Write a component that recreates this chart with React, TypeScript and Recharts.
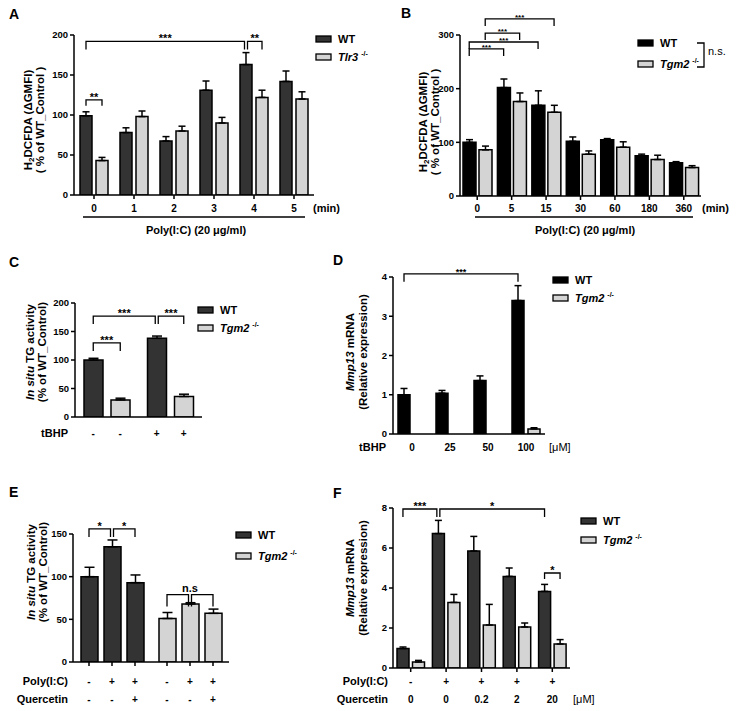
import React from 'react';
import { BarChart, Bar, XAxis, YAxis, ErrorBar, ReferenceLine, Cell } from 'recharts';

// ---- panel A: H2DCFDA, WT vs Tlr3-/- ----
const A_TIMES = ['0', '1', '2', '3', '4', '5'];
const A_WT = [99, 78, 67.5, 131, 163, 142];
const A_WT_SEM = [5, 6, 5.5, 11.5, 15, 13];
const A_TLR3 = [43, 98, 80, 90, 122, 120];
const A_TLR3_SEM = [4, 7, 6, 7, 9, 9];

// ---- panel B: H2DCFDA, WT vs Tgm2-/- ----
const B_TIMES = ['0', '5', '15', '30', '60', '180', '360'];
const B_WT = [100, 202, 169, 102, 105, 75, 62];
const B_WT_SEM = [5, 16, 27, 8, 2, 3, 2];
const B_TGM2 = [86, 176, 156, 78, 91, 68, 53];
const B_TGM2_SEM = [7, 16, 13, 6, 10, 8, 3.5];

// ---- panel C: in situ TG activity ----
const C_TBHP = ['-', '+'];
const C_WT = [100, 138];
const C_WT_SEM = [3, 4];
const C_TGM2 = [30, 36];
const C_TGM2_SEM = [3, 4];

// ---- panel D: Mmp13 mRNA, tBHP ----
const D_TBHP = ['0', '25', '50', '100'];
const D_WT = [1.0, 1.04, 1.36, 3.4];
const D_WT_SEM = [0.16, 0.07, 0.12, 0.38];
const D_TGM2 = [0, 0, 0, 0.13];
const D_TGM2_SEM = [0, 0, 0, 0.03];

// ---- panel E: in situ TG activity, quercetin ----
const E_GENOTYPES = ['WT', 'Tgm2'];
const E_POLY = ['-', '+', '+'];
const E_QUER = ['-', '-', '+'];
const E_WT = [100, 135, 93];
const E_WT_SEM = [11, 8, 9];
const E_TGM2 = [51, 68, 57];
const E_TGM2_SEM = [7, 1.5, 5];

// ---- panel F: Mmp13 mRNA, quercetin ----
const F_POLY = ['-', '+', '+', '+', '+'];
const F_QUER = ['0', '0', '0.2', '2', '20'];
const F_WT = [0.97, 6.72, 5.85, 4.58, 3.83];
const F_WT_SEM = [0.08, 0.66, 0.73, 0.42, 0.35];
const F_TGM2 = [0.3, 3.28, 2.15, 2.05, 1.2];
const F_TGM2_SEM = [0.08, 0.4, 1.03, 0.2, 0.22];

const FONT = '"Liberation Sans", Arial, sans-serif';
const DARK = '#333333';
const BLACK = '#000000';
const LIGHT = '#d4d4d4';
const YW = 34;
const MT = 30;
const MR = 4;
const XH = 45;

const TXT = { fontFamily: FONT, fontWeight: 700, fontSize: 10, fill: '#000' } as const;
const YTXT = { ...TXT, fontSize: 9.5 };

const err = (s: number) => (s > 0 ? [0, s] : null);

const aRows = A_TIMES.map((t, i) => ({ t, wt: A_WT[i], wtE: err(A_WT_SEM[i]), ko: A_TLR3[i], koE: err(A_TLR3_SEM[i]) }));
const bRows = B_TIMES.map((t, i) => ({ t, wt: B_WT[i], wtE: err(B_WT_SEM[i]), ko: B_TGM2[i], koE: err(B_TGM2_SEM[i]) }));
const cRows = C_TBHP.map((t, i) => ({ t, wt: C_WT[i], wtE: err(C_WT_SEM[i]), ko: C_TGM2[i], koE: err(C_TGM2_SEM[i]) }));
const dRows = D_TBHP.map((t, i) => ({ t, wt: D_WT[i], wtE: err(D_WT_SEM[i]), ko: D_TGM2[i], koE: err(D_TGM2_SEM[i]) }));
const eRows = E_GENOTYPES.map((g, gi) => {
  const v = gi === 0 ? E_WT : E_TGM2;
  const s = gi === 0 ? E_WT_SEM : E_TGM2_SEM;
  return { t: g, c0: v[0], c0E: err(s[0]), c1: v[1], c1E: err(s[1]), c2: v[2], c2E: err(s[2]) };
});
const fRows = F_QUER.map((_, i) => ({ t: String(i), wt: F_WT[i], wtE: err(F_WT_SEM[i]), ko: F_TGM2[i], koE: err(F_TGM2_SEM[i]) }));

type Brk = { a: string; b: string; y: number; da: number; db: number; text?: string; drop?: number; fs?: number; tx?: number };
type Ser = { key: string; fill: string; cells?: string[]; cap: number };

function bracketShape(b: Brk) {
  return (p: any) => {
    const xa = p.x1 + b.da;
    const xb = p.x2 + b.db;
    const y = p.y1;
    const drop = b.drop ?? 7;
    const tx = b.tx !== undefined ? p.x1 + b.tx : (xa + xb) / 2;
    const isStar = b.text && b.text.startsWith('*');
    return (
      <g>
        <path d={`M${xa},${y + drop}V${y}H${xb}V${y + drop}`} fill="none" stroke="#000" strokeWidth={1.3} />
        {b.text ? (
          <text x={tx} y={isStar ? y + 1 : y - 3} textAnchor="middle" fontFamily={FONT} fontWeight={700} fontSize={b.fs ?? 11}>
            {b.text}
          </text>
        ) : null}
      </g>
    );
  };
}

function Panel(props: {
  box: [number, number, number, number];
  rows: any[];
  domain: [number, number];
  ticks: number[];
  series: Ser[];
  barSize: number;
  barGap: number;
  brackets: Brk[];
  tick: (p: any) => React.ReactElement;
  xTickLine?: boolean;
}) {
  const [x0, y0, x1, y1] = props.box;
  const w = x1 - x0 + YW + MR;
  const h = y1 - y0 + MT + XH;
  const axis = { stroke: '#000', strokeWidth: 1.5 };
  return (
    <div style={{ position: 'absolute', left: x0 - YW, top: y0 - MT }}>
      <BarChart width={w} height={h} data={props.rows} margin={{ top: MT, right: MR, bottom: 0, left: 0 }} barSize={props.barSize} barGap={props.barGap}>
        <XAxis
          dataKey="t"
          type="category"
          height={XH}
          interval={0}
          axisLine={axis}
          tickLine={props.xTickLine ? axis : false}
          tickSize={4}
          tickMargin={2}
          tick={props.tick}
        />
        <YAxis
          width={YW}
          type="number"
          domain={props.domain}
          ticks={props.ticks}
          allowDataOverflow
          interval={0}
          axisLine={axis}
          tickLine={axis}
          tickSize={4}
          tickMargin={2}
          tick={YTXT}
        />
        {props.series.map((s) => (
          <Bar key={s.key} dataKey={s.key} fill={s.fill} stroke="#000" strokeWidth={1.5} isAnimationActive={false}>
            {s.cells ? props.rows.map((_, i) => <Cell key={i} fill={s.cells![i]} />) : null}
            <ErrorBar dataKey={`${s.key}E`} direction="y" width={s.cap} stroke="#000" strokeWidth={1.5} />
          </Bar>
        ))}
        {props.brackets.map((b, i) => (
          <ReferenceLine
            key={i}
            segment={[{ x: b.a, y: b.y }, { x: b.b, y: b.y }]}
            ifOverflow="visible"
            shape={bracketShape(b)}
          />
        ))}
      </BarChart>
    </div>
  );
}

const simpleTick = (dy: number) => (p: any) => (
  <text x={p.x} y={p.y + dy} textAnchor="middle" dominantBaseline="central" {...TXT}>
    {p.payload.value}
  </text>
);

const cTick = (p: any) => (
  <g>
    {[-13.5, 13.5].map((d) => (
      <text key={d} x={p.x + d} y={p.y + 10} textAnchor="middle" dominantBaseline="central" {...TXT}>
        {p.payload.value}
      </text>
    ))}
  </g>
);

const eTick = (p: any) => (
  <g>
    {[-23, 0, 23].map((d, i) => (
      <g key={d}>
        <line x1={p.x + d} x2={p.x + d} y1={p.y - 6} y2={p.y - 2} stroke="#000" strokeWidth={1.5} />
        <text x={p.x + d} y={p.y + 13} textAnchor="middle" dominantBaseline="central" {...TXT}>{E_POLY[i]}</text>
        <text x={p.x + d} y={p.y + 31} textAnchor="middle" dominantBaseline="central" {...TXT}>{E_QUER[i]}</text>
      </g>
    ))}
  </g>
);

const fTick = (p: any) => {
  const i = Number(p.payload.value);
  return (
    <g>
      <text x={p.x} y={p.y + 7} textAnchor="middle" dominantBaseline="central" {...TXT}>{F_POLY[i]}</text>
      <text x={p.x} y={p.y + 25} textAnchor="middle" dominantBaseline="central" {...TXT}>{F_QUER[i]}</text>
    </g>
  );
};

function Swatch({ x, y, fill }: { x: number; y: number; fill: string }) {
  return <rect x={x} y={y - 3} width={15} height={6} fill={fill} stroke="#000" strokeWidth={1.3} />;
}

function Legend({ x, y1, y2, dark, ko }: { x: number; y1: number; y2: number; dark: string; ko: string }) {
  return (
    <g fontFamily={FONT} fontWeight={700} fontSize={11}>
      <Swatch x={x} y={y1} fill={dark} />
      <Swatch x={x} y={y2} fill={LIGHT} />
      <text x={x + 22} y={y1} dominantBaseline="central">WT</text>
      <text x={x + 22} y={y2} dominantBaseline="central">
        <tspan fontStyle="italic">{ko}</tspan>
        <tspan dx={3} dy={-4} fontSize={7}>-/-</tspan>
      </text>
    </g>
  );
}

function YTitle({ x1, x2, y, l1, l2 }: { x1: number; x2: number; y: number; l1: React.ReactNode; l2: React.ReactNode }) {
  return (
    <g fontFamily={FONT} fontWeight={700} fontSize={11.5}>
      <text transform={`translate(${x1},${y}) rotate(-90)`} textAnchor="middle" dominantBaseline="central">{l1}</text>
      <text transform={`translate(${x2},${y}) rotate(-90)`} textAnchor="middle" dominantBaseline="central">{l2}</text>
    </g>
  );
}

const H2 = (
  <>
    H<tspan dy={3} fontSize={8}>2</tspan>
    <tspan dy={-3}>DCFDA (ΔGMFI)</tspan>
  </>
);

function Overlay() {
  const t = { fontFamily: FONT, fontWeight: 700, fontSize: 11, dominantBaseline: 'central' } as const;
  return (
    <svg width={743} height={711} style={{ position: 'absolute', left: 0, top: 0, pointerEvents: 'none' }}>
      {/* panel letters */}
      <g fontFamily={FONT} fontWeight={700} fontSize={14} dominantBaseline="central">
        <text x={9} y={14}>A</text>
        <text x={401} y={13}>B</text>
        <text x={9} y={262}>C</text>
        <text x={333} y={260}>D</text>
        <text x={9} y={492}>E</text>
        <text x={333} y={493}>F</text>
      </g>

      {/* A */}
      <YTitle x1={28} x2={40} y={120} l1={H2} l2="( % of WT_Control )" />
      <Legend x={316} y1={39} y2={57} dark={DARK} ko="Tlr3" />
      <text x={313} y={208} {...t}>(min)</text>
      <line x1={83} x2={305} y1={217} y2={217} stroke="#000" strokeWidth={1.5} />
      <text x={196} y={230} textAnchor="middle" {...t}>Poly(I:C) (20 μg/ml)</text>

      {/* B */}
      <YTitle x1={423} x2={435} y={122} l1={H2} l2="( % of WT_Control )" />
      <Legend x={638} y1={43} y2={64} dark={BLACK} ko="Tgm2" />
      <path d="M697,43H704V67H697" fill="none" stroke="#000" strokeWidth={1.3} />
      <text x={708} y={51} {...t} fontWeight={400}>n.s.</text>
      <text x={702} y={208} {...t}>(min)</text>
      <line x1={475} x2={693} y1={217} y2={217} stroke="#000" strokeWidth={1.5} />
      <text x={585} y={230} textAnchor="middle" {...t}>Poly(I:C) (20 μg/ml)</text>

      {/* C */}
      <YTitle
        x1={30}
        x2={42}
        y={352}
        l1={<><tspan fontStyle="italic">In situ</tspan> TG activity</>}
        l2="(% of WT_Control)"
      />
      <Legend x={198} y1={310} y2={328} dark={DARK} ko="Tgm2" />
      <text x={68} y={433} textAnchor="end" {...t}>tBHP</text>

      {/* D */}
      <YTitle
        x1={350}
        x2={363}
        y={352}
        l1={<><tspan fontStyle="italic">Mmp13</tspan> mRNA</>}
        l2="(Relative expression)"
      />
      <Legend x={553} y1={280} y2={298} dark={BLACK} ko="Tgm2" />
      <text x={386} y={447} textAnchor="end" {...t}>tBHP</text>
      <text x={549} y={447} {...t} fontWeight={400}>[μM]</text>

      {/* E */}
      <YTitle
        x1={31}
        x2={43}
        y={572}
        l1={<><tspan fontStyle="italic">In situ</tspan> TG activity</>}
        l2="(% of WT_Control)"
      />
      <Legend x={236} y1={535} y2={556} dark={DARK} ko="Tgm2" />
      <text x={68} y={681} textAnchor="end" {...t}>Poly(I:C)</text>
      <text x={68} y={699} textAnchor="end" {...t}>Quercetin</text>

      {/* F */}
      <YTitle
        x1={350}
        x2={363}
        y={578}
        l1={<><tspan fontStyle="italic">Mmp13</tspan> mRNA</>}
        l2="(Relative expression)"
      />
      <Legend x={581} y1={521} y2={540} dark={DARK} ko="Tgm2" />
      <text x={388} y={681} textAnchor="end" {...t}>Poly(I:C)</text>
      <text x={388} y={699} textAnchor="end" {...t}>Quercetin</text>
      <text x={573} y={699} {...t} fontWeight={400}>[μM]</text>
    </svg>
  );
}

export default function App() {
  return (
    <div style={{ position: 'absolute', left: 0, top: 0, width: 743, height: 711, background: '#fff', overflow: 'hidden' }}>
      <Panel
        box={[74, 35, 314, 195]}
        rows={aRows}
        domain={[0, 200]}
        ticks={[0, 50, 100, 150, 200]}
        barSize={12}
        barGap={4}
        series={[{ key: 'wt', fill: DARK, cap: 3.5 }, { key: 'ko', fill: LIGHT, cap: 3.5 }]}
        brackets={[
          { a: '0', b: '0', y: 119, da: -8, db: 8, text: '**', drop: 6 },
          { a: '0', b: '4', y: 192, da: -8, db: -9.5, text: '***', drop: 8 },
          { a: '4', b: '4', y: 192, da: -6.5, db: 8, text: '**', drop: 8 },
        ]}
        tick={simpleTick(7)}
        xTickLine
      />
      <Panel
        box={[460, 35, 701, 196]}
        rows={bRows}
        domain={[0, 300]}
        ticks={[0, 100, 200, 300]}
        barSize={13}
        barGap={3}
        series={[{ key: 'wt', fill: BLACK, cap: 3.5 }, { key: 'ko', fill: LIGHT, cap: 3.5 }]}
        brackets={[
          { a: '0', b: '5', y: 274, da: -8, db: -8, text: '***', fs: 8 },
          { a: '0', b: '15', y: 287, da: -8, db: -8, text: '***', fs: 8 },
          { a: '0', b: '5', y: 303.5, da: 8, db: 8, text: '***', fs: 8 },
          { a: '0', b: '15', y: 330, da: 8, db: 8, text: '***', fs: 8 },
        ]}
        tick={simpleTick(6)}
        xTickLine
      />
      <Panel
        box={[75, 303, 202, 417]}
        rows={cRows}
        domain={[0, 200]}
        ticks={[0, 50, 100, 150, 200]}
        barSize={19}
        barGap={8}
        series={[{ key: 'wt', fill: DARK, cap: 5 }, { key: 'ko', fill: LIGHT, cap: 5 }]}
        brackets={[
          { a: '-', b: '-', y: 130, da: -13.5, db: 13.5, text: '***', drop: 8 },
          { a: '-', b: '+', y: 177, da: -13.5, db: -15, text: '***', drop: 8 },
          { a: '+', b: '+', y: 177, da: -12, db: 13.5, text: '***', drop: 8 },
        ]}
        tick={cTick}
      />
      <Panel
        box={[393, 277, 545, 434]}
        rows={dRows}
        domain={[0, 4]}
        ticks={[0, 1, 2, 3, 4]}
        barSize={12}
        barGap={4}
        series={[{ key: 'wt', fill: BLACK, cap: 3.5 }, { key: 'ko', fill: LIGHT, cap: 3.5 }]}
        brackets={[{ a: '0', b: '100', y: 4.08, da: -8, db: -8, text: '***', fs: 9, drop: 8 }]}
        tick={simpleTick(7)}
      />
      <Panel
        box={[73, 534, 229, 662]}
        rows={eRows}
        domain={[0, 150]}
        ticks={[0, 50, 100, 150]}
        barSize={17}
        barGap={6}
        series={[
          { key: 'c0', fill: DARK, cells: [DARK, LIGHT], cap: 5 },
          { key: 'c1', fill: DARK, cells: [DARK, LIGHT], cap: 5 },
          { key: 'c2', fill: DARK, cells: [DARK, LIGHT], cap: 5 },
        ]}
        brackets={[
          { a: 'WT', b: 'WT', y: 156, da: -23, db: -1.5, text: '*', drop: 8 },
          { a: 'WT', b: 'WT', y: 156, da: 1.5, db: 23, text: '*', drop: 8 },
          { a: 'Tgm2', b: 'Tgm2', y: 79, da: -23, db: -1.5, text: 'n.s', drop: 12, tx: 0 },
          { a: 'Tgm2', b: 'Tgm2', y: 79, da: 1.5, db: 23, drop: 12 },
        ]}
        tick={eTick}
      />
      <Panel
        box={[393, 508, 570, 668]}
        rows={fRows}
        domain={[0, 8]}
        ticks={[0, 2, 4, 6, 8]}
        barSize={12}
        barGap={3.5}
        series={[{ key: 'wt', fill: DARK, cap: 3.5 }, { key: 'ko', fill: LIGHT, cap: 3.5 }]}
        brackets={[
          { a: '0', b: '1', y: 7.95, da: -7.75, db: -9.25, text: '***', drop: 8 },
          { a: '1', b: '4', y: 7.95, da: -6.25, db: -7.75, text: '*', drop: 8 },
          { a: '4', b: '4', y: 4.75, da: -7.75, db: 7.75, text: '*', drop: 6 },
        ]}
        tick={fTick}
        xTickLine
      />
      <Overlay />
    </div>
  );
}
